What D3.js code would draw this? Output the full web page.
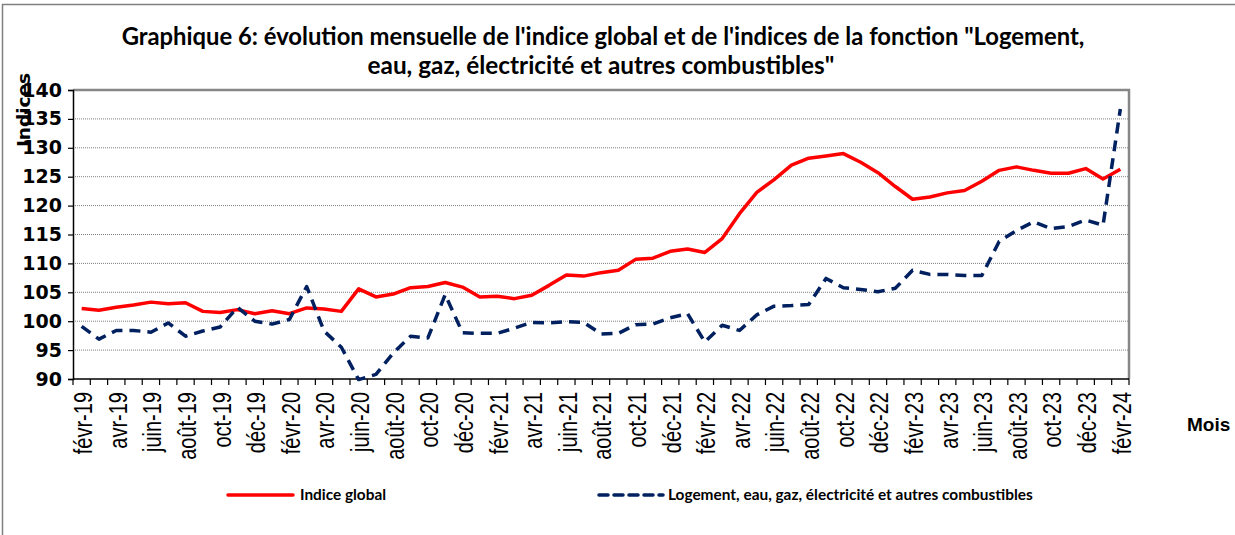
<!DOCTYPE html>
<html>
<head>
<meta charset="utf-8">
<script src="https://cdn.jsdelivr.net/npm/d3@7"></script>
<style>
  body { margin: 0; background: #ffffff; }
  svg { display: block; }
</style>
</head>
<body>
<div id="chart"></div>
<script>
"use strict";

/* Chart data */
const months = [
  "févr-19","mars-19","avr-19","mai-19","juin-19","juil-19","août-19","sept-19","oct-19","nov-19","déc-19","janv-20",
  "févr-20","mars-20","avr-20","mai-20","juin-20","juil-20","août-20","sept-20","oct-20","nov-20","déc-20","janv-21",
  "févr-21","mars-21","avr-21","mai-21","juin-21","juil-21","août-21","sept-21","oct-21","nov-21","déc-21","janv-22",
  "févr-22","mars-22","avr-22","mai-22","juin-22","juil-22","août-22","sept-22","oct-22","nov-22","déc-22","janv-23",
  "févr-23","mars-23","avr-23","mai-23","juin-23","juil-23","août-23","sept-23","oct-23","nov-23","déc-23","janv-24",
  "févr-24"
];

const indiceGlobal = [
  102.2, 101.9, 102.4, 102.8, 103.3, 103.0, 103.2, 101.7, 101.5, 102.0, 101.3, 101.8,
  101.3, 102.3, 102.1, 101.7, 105.6, 104.2, 104.7, 105.8, 106.0, 106.7, 105.9, 104.2,
  104.3, 103.9, 104.5, 106.2, 108.0, 107.8, 108.4, 108.8, 110.7, 110.9, 112.1, 112.5,
  111.9, 114.3, 118.6, 122.3, 124.5, 127.0, 128.2, 128.6, 129.0, 127.5, 125.7, 123.3,
  121.1, 121.5, 122.2, 122.6, 124.2, 126.1, 126.7, 126.1, 125.6, 125.6, 126.4, 124.6,
  126.3
];

const logement = [
  99.1, 96.9, 98.4, 98.4, 98.1, 99.7, 97.4, 98.3, 99.0, 102.4, 100.0, 99.5,
  100.3, 106.0, 98.3, 95.5, 89.9, 90.8, 94.5, 97.4, 97.1, 104.6, 98.0, 97.9,
  97.9, 98.8, 99.8, 99.7, 99.9, 99.8, 97.8, 97.9, 99.4, 99.5, 100.6, 101.3,
  96.4, 99.3, 98.4, 101.1, 102.6, 102.7, 102.9, 107.4, 105.8, 105.5, 105.1, 105.7,
  108.8, 108.1, 108.1, 107.9, 107.9, 113.8, 115.7, 117.2, 116.0, 116.4, 117.5, 116.6,
  136.7
];

const yTicks = [90, 95, 100, 105, 110, 115, 120, 125, 130, 135, 140];

const titleLines = [
  "Graphique 6: évolution mensuelle de l'indice global et de l'indices de la fonction \"Logement,",
  "eau, gaz, électricité et autres combustibles\""
];
const legendLabels = ["Indice global", "Logement, eau, gaz, électricité et autres combustibles"];

/* Chart "Class" */
const IndexChart = function () {

  let chart = {};

  /* Shrink or grow a text so that it takes the given width */
  function fit_text(sel, target) {
    const fs = parseFloat(sel.attr("font-size"));
    const w = sel.node().getComputedTextLength();
    sel.attr("font-size", (fs * target / w).toFixed(2));
  }

  function initialize(div_id) {
    chart.width  = 1235;
    chart.height = 535;
    chart.margin = { left: 73, right: 106, top: 90, bottom: 156 };

    chart.svg = d3.select(div_id)
      .append("svg")
      .attr("width", chart.width)
      .attr("height", chart.height)
    ;

    /* outer frame of the chart */
    chart.svg.append("rect")
      .attr("x", 2.5).attr("y", 4.5)
      .attr("width", chart.width + 10).attr("height", chart.height + 10)
      .attr("fill", "none")
      .attr("stroke", "#7f7f7f")
      .attr("stroke-width", 1.5);
  }

  function render() {
    const m = chart.margin;
    const x0 = m.left, x1 = chart.width - m.right;
    const y0 = m.top,  y1 = chart.height - m.bottom;

    /* scales */
    chart.xScale = d3.scaleBand()
      .domain(months)
      .range([x0, x1])
      .paddingInner(0).paddingOuter(0);

    chart.yScale = d3.scaleLinear()
      .domain([90, 140])
      .range([y1, y0]);

    const cx = function (d) { return chart.xScale(d) + chart.xScale.bandwidth() / 2; };

    /* title */
    const title = chart.svg.append("g")
      .attr("font-family", "Lato, 'Open Sans', sans-serif")
      .attr("font-weight", "bold")
      .attr("fill", "#000");
    const t1 = title.append("text")
      .attr("x", 603).attr("y", 45)
      .attr("text-anchor", "middle")
      .attr("font-size", 20)
      .text(titleLines[0]);
    fit_text(t1, 963);
    const t2 = title.append("text")
      .attr("x", 601).attr("y", 74)
      .attr("text-anchor", "middle")
      .attr("font-size", 20)
      .text(titleLines[1]);
    fit_text(t2, 467);

    /* dotted horizontal grid lines */
    chart.svg.append("g")
      .selectAll("line")
      .data(yTicks.filter(function (d) { return d > 90 && d < 140; }))
      .enter().append("line")
      .attr("x1", x0).attr("x2", x1)
      .attr("y1", function (d) { return chart.yScale(d); })
      .attr("y2", function (d) { return chart.yScale(d); })
      .attr("stroke", "#808080")
      .attr("stroke-width", 1)
      .attr("stroke-dasharray", "1,1");

    /* top and right border of the plot area */
    chart.svg.append("path")
      .attr("d", "M" + x0 + "," + y0 + "H" + x1 + "V" + y1)
      .attr("fill", "none")
      .attr("stroke", "#868686")
      .attr("stroke-width", 2.5);

    /* y axis */
    const yAxis = chart.svg.append("g")
      .attr("transform", "translate(" + x0 + ",0)")
      .call(d3.axisLeft(chart.yScale).tickValues(yTicks).tickSize(5).tickPadding(6).tickFormat(d3.format("d")));
    yAxis.select(".domain").attr("stroke", "#000").attr("stroke-width", 1.5);
    yAxis.selectAll(".tick line").attr("stroke", "#000").attr("stroke-width", 1.2);
    yAxis.selectAll("text")
      .attr("font-family", "'DejaVu Sans', sans-serif")
      .attr("font-weight", "bold")
      .attr("font-size", 19)
      .attr("fill", "#000");

    /* x axis: ticks between categories, label every second month */
    const xAxis = chart.svg.append("g")
      .attr("transform", "translate(0," + y1 + ")");
    xAxis.append("line")
      .attr("x1", x0).attr("x2", x1)
      .attr("stroke", "#000").attr("stroke-width", 1.5);
    xAxis.selectAll(".xtick")
      .data(months.concat(["end"]))
      .enter().append("line")
      .attr("class", "xtick")
      .attr("x1", function (d, i) { return x0 + i * chart.xScale.bandwidth(); })
      .attr("x2", function (d, i) { return x0 + i * chart.xScale.bandwidth(); })
      .attr("y1", 0).attr("y2", 6)
      .attr("stroke", "#000").attr("stroke-width", 1.2);
    /* the labels of the source look stretched sideways */
    xAxis.selectAll(".xlabel")
      .data(months.filter(function (d, i) { return i % 2 === 0; }))
      .enter().append("text")
      .attr("class", "xlabel")
      .attr("transform", function (d) { return "translate(" + (cx(d) + 1) + ",13) scale(1.3,1) rotate(-90)"; })
      .attr("dy", "0.36em")
      .attr("text-anchor", "end")
      .attr("font-family", "'Liberation Sans', Arial, sans-serif")
      .attr("font-size", 20)
      .attr("fill", "#000")
      .text(function (d) { return d; });

    /* axis titles */
    chart.svg.append("text")
      .attr("transform", "translate(30,110) rotate(-90)")
      .attr("text-anchor", "middle")
      .attr("font-family", "'DejaVu Sans', sans-serif")
      .attr("font-weight", "bold")
      .attr("font-size", 18.5)
      .attr("fill", "#000")
      .text("Indices");
    chart.svg.append("text")
      .attr("x", 1187).attr("y", 431)
      .attr("font-family", "'Liberation Sans', Arial, sans-serif")
      .attr("font-weight", "bold")
      .attr("font-size", 19)
      .attr("fill", "#000")
      .text("Mois");

    /* series lines */
    const line = function (values) {
      return d3.line()
        .x(function (d, i) { return cx(months[i]); })
        .y(function (d) { return chart.yScale(d); })(values);
    };

    chart.svg.append("path")
      .attr("d", line(indiceGlobal))
      .attr("fill", "none")
      .attr("stroke", "#ff0000")
      .attr("stroke-width", 3.5)
      .attr("stroke-linejoin", "round");

    chart.svg.append("path")
      .attr("d", line(logement))
      .attr("fill", "none")
      .attr("stroke", "#002060")
      .attr("stroke-width", 3.5)
      .attr("stroke-dasharray", "11,7")
      .attr("stroke-linejoin", "round");

    /* legend */
    const legend = chart.svg.append("g");
    legend.append("line")
      .attr("x1", 228).attr("x2", 293).attr("y1", 495).attr("y2", 495)
      .attr("stroke", "#ff0000").attr("stroke-width", 3.5).attr("stroke-linecap", "round");
    legend.append("line")
      .attr("x1", 599).attr("x2", 663).attr("y1", 495).attr("y2", 495)
      .attr("stroke", "#002060").attr("stroke-width", 3.5)
      .attr("stroke-dasharray", "9,6").attr("stroke-linecap", "round");
    const l1 = legend.append("text")
      .attr("x", 300).attr("y", 500)
      .attr("font-family", "Lato, 'Open Sans', sans-serif")
      .attr("font-weight", "bold").attr("font-size", 13)
      .attr("fill", "#000")
      .text(legendLabels[0]);
    fit_text(l1, 86);
    const l2 = legend.append("text")
      .attr("x", 668).attr("y", 500)
      .attr("font-family", "Lato, 'Open Sans', sans-serif")
      .attr("font-weight", "bold").attr("font-size", 13)
      .attr("fill", "#000")
      .text(legendLabels[1]);
    fit_text(l2, 365);
  }

  return {
    init   : initialize,
    render : render
  };
};

const App = IndexChart();
App.init("#chart");
App.render();
</script>
</body>
</html>
